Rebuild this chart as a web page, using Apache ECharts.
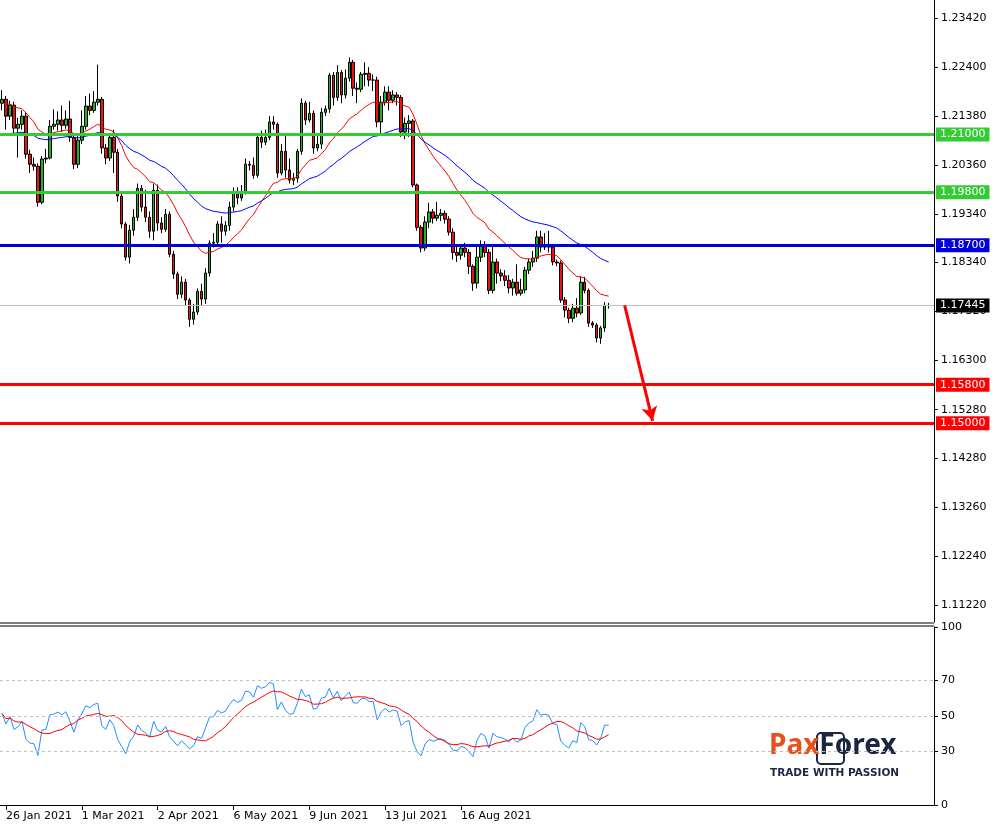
<!DOCTYPE html>
<html><head><meta charset="utf-8">
<script src="https://cdn.jsdelivr.net/npm/echarts@6/dist/echarts.min.js"></script>
<style>html,body{margin:0;padding:0;background:#fff}#c{width:997px;height:826px}</style>
</head><body><div id="c"></div>
<script>
const firstOpen = 1.2165;
const closes = [1.2173,1.2138,1.2161,1.2113,1.2121,1.2138,1.2059,1.2038,1.2034,1.1959,
1.2049,1.2051,1.2117,1.2121,1.2130,1.2119,1.2132,1.2094,1.2038,1.2088,
1.2117,1.2159,1.2150,1.2167,1.2173,1.2072,1.2051,1.2094,1.2063,1.1972,
1.1914,1.1845,1.1901,1.1928,1.1988,1.1949,1.1928,1.1899,1.1984,1.1916,
1.1903,1.1934,1.1851,1.1810,1.1768,1.1793,1.1756,1.1716,1.1731,1.1774,
1.1758,1.1812,1.1874,1.1876,1.1914,1.1899,1.1911,1.1949,1.1980,1.1968,
1.1980,1.2038,1.2036,1.2015,1.2094,1.2084,1.2094,1.2126,1.2121,1.2020,
1.2065,1.2026,1.2005,1.2009,1.2065,1.2165,1.2130,1.2144,1.2072,1.2080,
1.2146,1.2153,1.2223,1.2177,1.2229,1.2182,1.2217,1.2250,1.2196,1.2194,
1.2225,1.2227,1.2213,1.2213,1.2126,1.2167,1.2188,1.2171,1.2182,1.2177,
1.2105,1.2123,1.2128,1.1995,1.1907,1.1864,1.1918,1.1939,1.1926,1.1932,
1.1936,1.1924,1.1897,1.1855,1.1849,1.1864,1.1855,1.1826,1.1791,1.1845,
1.1870,1.1855,1.1776,1.1835,1.1812,1.1806,1.1797,1.1781,1.1793,1.1770,
1.1777,1.1818,1.1835,1.1843,1.1887,1.1866,1.1870,1.1866,1.1835,1.1833,
1.1756,1.1735,1.1718,1.1739,1.1729,1.1793,1.1776,1.1708,1.1704,1.1677,
1.1698,1.1745,1.17445];
const highs = [1.2192,1.2180,1.2170,1.2168,1.2135,1.2150,1.2145,1.2068,1.2052,1.2040,
1.2055,1.2070,1.2130,1.2152,1.2148,1.2160,1.2150,1.2170,1.2100,1.2100,
1.2150,1.2180,1.2185,1.2190,1.2245,1.2178,1.2080,1.2100,1.2110,1.2070,
1.1978,1.1918,1.1912,1.1945,1.1998,1.1995,1.1985,1.1940,1.1998,1.1996,
1.1928,1.1945,1.1940,1.1858,1.1815,1.1805,1.1800,1.1760,1.1748,1.1780,
1.1790,1.1822,1.1880,1.1895,1.1920,1.1930,1.1920,1.1960,1.1990,1.1990,
1.1995,1.2050,1.2045,1.2052,1.2100,1.2108,1.2110,1.2138,1.2138,1.2125,
1.2080,1.2100,1.2050,1.2020,1.2070,1.2175,1.2170,1.2168,1.2150,1.2100,
1.2155,1.2160,1.2228,1.2230,1.2244,1.2234,1.2235,1.2260,1.2255,1.2208,
1.2230,1.2250,1.2240,1.2225,1.2220,1.2180,1.2200,1.2200,1.2192,1.2188,
1.2182,1.2135,1.2140,1.2132,1.1998,1.1912,1.1930,1.1958,1.1945,1.1960,
1.1945,1.1942,1.1930,1.1905,1.1868,1.1872,1.1875,1.1862,1.1830,1.1870,
1.1880,1.1878,1.1862,1.1870,1.1842,1.1820,1.1818,1.1808,1.1800,1.1830,
1.1800,1.1825,1.1842,1.1858,1.1900,1.1900,1.1895,1.1900,1.1870,1.1840,
1.1838,1.1762,1.1740,1.1748,1.1760,1.1805,1.1804,1.1780,1.1712,1.1708,
1.1702,1.1752,1.1750];
const lows = [1.2150,1.2110,1.2130,1.2100,1.2052,1.2110,1.2050,1.2020,1.2025,1.1950,
1.1955,1.2040,1.2048,1.2110,1.2108,1.2105,1.2112,1.2085,1.2028,1.2030,
1.2080,1.2110,1.2140,1.2145,1.2160,1.2060,1.2038,1.2045,1.2020,1.1960,
1.1905,1.1838,1.1832,1.1890,1.1920,1.1940,1.1918,1.1885,1.1880,1.1900,
1.1895,1.1898,1.1845,1.1800,1.1758,1.1760,1.1745,1.1700,1.1705,1.1725,
1.1745,1.1748,1.1805,1.1865,1.1870,1.1875,1.1890,1.1900,1.1940,1.1955,
1.1962,1.1975,1.2025,1.2008,1.2010,1.2072,1.2078,1.2088,1.2110,1.2010,
1.2015,1.2010,1.1998,1.1995,1.2000,1.2058,1.2120,1.2125,1.2060,1.2065,
1.2070,1.2138,1.2145,1.2160,1.2170,1.2165,1.2175,1.2210,1.2180,1.2165,
1.2188,1.2200,1.2200,1.2190,1.2115,1.2100,1.2160,1.2150,1.2165,1.2160,
1.2095,1.2090,1.2095,1.1990,1.1900,1.1855,1.1858,1.1905,1.1915,1.1920,
1.1920,1.1915,1.1890,1.1840,1.1835,1.1840,1.1845,1.1810,1.1775,1.1780,
1.1835,1.1845,1.1768,1.1770,1.1790,1.1795,1.1785,1.1770,1.1765,1.1765,
1.1765,1.1770,1.1810,1.1825,1.1835,1.1855,1.1860,1.1855,1.1828,1.1826,
1.1750,1.1720,1.1708,1.1710,1.1720,1.1725,1.1770,1.1700,1.1698,1.1668,
1.1665,1.1690,1.1738];
const dateLabels = ['26 Jan 2021','1 Mar 2021','2 Apr 2021','6 May 2021','9 Jun 2021','13 Jul 2021','16 Aug 2021'];
const dateLabelIdx = [1,20,39,58,77,96,115];
const priceTicks = [1.2342,1.2240,1.2138,1.2036,1.1934,1.1834,1.1732,1.1630,1.1528,1.1428,1.1326,1.1224,1.1122];
const rsiTicks = [0,30,50,70,100];
const levelsGreen = [1.2100,1.1980];
const levelsBlue = [1.1870];
const levelsRed = [1.1580,1.1500];
const lastPrice = 1.17445;
const fastSeed = 1.2165, slowSeed = 1.2095, fastPeriod = 21, slowPeriod = 50;
const rsiPeriod = 14, rsiMaPeriod = 10;
const arrowFrom = [156, 1.1745], arrowTo = [163, 1.1505];
const totalSlots = 234;

const cats = [];
for (let i = 0; i < totalSlots; i++) cats.push(String(i));
const ohlc = closes.map((c, i) => {
  const o = i === 0 ? firstOpen : closes[i - 1];
  return [o, c, lows[i], highs[i]];
});
function ema(seed, p) {
  const k = 2 / (p + 1); let v = seed;
  return closes.map(c => (v = v + k * (c - v), +v.toFixed(5)));
}
const emaFast = ema(fastSeed, fastPeriod), emaSlow = ema(slowSeed, slowPeriod);
let ag = 0.0011, al = 0.0011;
const rsi = closes.map((c, i) => {
  const prev = i === 0 ? firstOpen : closes[i - 1];
  const d = c - prev;
  ag = (ag * (rsiPeriod - 1) + Math.max(d, 0)) / rsiPeriod;
  al = (al * (rsiPeriod - 1) + Math.max(-d, 0)) / rsiPeriod;
  return +(100 - 100 / (1 + ag / al)).toFixed(2);
});
const rsiMa = rsi.map((v, i) => {
  const s = rsi.slice(Math.max(0, i - rsiMaPeriod + 1), i + 1);
  return +(s.reduce((a, b) => a + b, 0) / s.length).toFixed(2);
});

const FONT = 'DejaVu Sans';
const NAVY = '#1c2640', ORANGE = '#e8501e';
const lvl = (v, color) => ({
  yAxis: v,
  lineStyle: { color, width: 3, type: 'solid' },
  label: { show: true, position: 'end', formatter: v.toFixed(5), color: '#fff', backgroundColor: color,
           padding: [2, 4, 1, 4], fontFamily: FONT, fontSize: 11, distance: 2 }
});
const chart = echarts.init(document.getElementById('c'));
chart.setOption({
  animation: false,
  backgroundColor: '#fff',
  grid: [
    { left: 0, top: 0, width: 934, height: 622 },
    { left: 0, top: 627, width: 934, height: 178 }
  ],
  xAxis: [
    { type: 'category', data: cats, gridIndex: 0, boundaryGap: true, axisLine: { show: false },
      axisTick: { show: false }, axisLabel: { show: false }, splitLine: { show: false } },
    { type: 'category', data: cats, gridIndex: 1, boundaryGap: true,
      axisLine: { show: true, lineStyle: { color: '#000', width: 1 } },
      axisTick: { show: true, length: 5, interval: (i) => dateLabelIdx.includes(i), lineStyle: { color: '#000' }, alignWithLabel: true },
      axisLabel: { show: true, interval: (i) => dateLabelIdx.includes(i), align: 'left', color: '#000',
        fontFamily: FONT, fontSize: 11, margin: 6,
        formatter: (v) => { const k = dateLabelIdx.indexOf(+v); return k >= 0 ? dateLabels[k] : ''; } } }
  ],
  yAxis: [
    { type: 'value', gridIndex: 0, position: 'right', min: 1.10869, max: 1.23794,
      axisLine: { show: true, lineStyle: { color: '#000' } },
      axisTick: { show: true, length: 4, customValues: priceTicks, lineStyle: { color: '#000' } },
      axisLabel: { show: true, customValues: priceTicks, formatter: v => v.toFixed(5), color: '#000',
        fontFamily: FONT, fontSize: 11, margin: 7 },
      splitLine: { show: false } },
    { type: 'value', gridIndex: 1, position: 'right', min: 0, max: 100,
      axisLine: { show: true, lineStyle: { color: '#000' } },
      axisTick: { show: true, length: 4, customValues: rsiTicks, lineStyle: { color: '#000' } },
      axisLabel: { show: true, customValues: rsiTicks, color: '#000', fontFamily: FONT, fontSize: 11, margin: 7 },
      splitLine: { show: false } }
  ],
  graphic: [
    { type: 'line', shape: { x1: 0, y1: 623, x2: 934, y2: 623 }, style: { stroke: '#000', lineWidth: 1 } },
    { type: 'line', shape: { x1: 0, y1: 626, x2: 934, y2: 626 }, style: { stroke: '#000', lineWidth: 1 } },
    { type: 'rect', z: 1, shape: { x: 817, y: 733, width: 27, height: 31, r: 4 }, style: { fill: 'none', stroke: NAVY, lineWidth: 2 } },
    { type: 'text', z: 2, left: 769, top: 732, style: { rich: {
        o: { fill: ORANGE, fontSize: 28, fontFamily: 'Noto Sans', fontWeight: 'bold' },
        n: { fill: NAVY, fontSize: 28, fontFamily: 'Noto Sans', fontWeight: 'bold' } },
        text: '{o|Pax}{n|Forex}' } },
    { type: 'text', left: 770, top: 768, style: { text: 'TRADE WITH PASSION', fill: NAVY, fontSize: 10.5,
        fontFamily: 'DejaVu Sans', fontWeight: 'bold' } }
  ],
  series: [
    { type: 'candlestick', xAxisIndex: 0, yAxisIndex: 0, data: ohlc, barWidth: 3,
      itemStyle: { color: '#1fb51f', color0: '#ee1111', borderColor: '#000', borderColor0: '#000', borderWidth: 1 } },
    { type: 'line', xAxisIndex: 0, yAxisIndex: 0, data: emaFast, showSymbol: false, lineStyle: { color: '#ff0000', width: 1 } },
    { type: 'line', xAxisIndex: 0, yAxisIndex: 0, data: emaSlow, showSymbol: false, lineStyle: { color: '#0000ff', width: 1 },
      markLine: { silent: true, symbol: 'none', animation: false, precision: 5, data: [
        ...levelsGreen.map(v => lvl(v, '#33cc33')),
        ...levelsBlue.map(v => lvl(v, '#0000dd')),
        ...levelsRed.map(v => lvl(v, '#ff0000')),
        { yAxis: lastPrice, lineStyle: { color: '#c0c0c0', width: 1, type: 'solid' },
          label: { show: true, position: 'end', formatter: lastPrice.toFixed(5), color: '#fff', backgroundColor: '#000',
            padding: [2, 4, 1, 4], fontFamily: FONT, fontSize: 11, distance: 2 } },
        [ { coord: arrowFrom, symbol: 'none' },
          { coord: arrowTo, symbol: 'arrow', symbolSize: [12, 14],
            lineStyle: { color: '#ff0000', width: 3, type: 'solid' }, label: { show: false } } ]
      ] } },
    { type: 'line', xAxisIndex: 1, yAxisIndex: 1, data: rsi, showSymbol: false, lineStyle: { color: '#1e90ff', width: 1 },
      markLine: { silent: true, symbol: 'none', label: { show: false },
        lineStyle: { color: '#c0c0c0', type: [3, 3], width: 1 }, data: [{ yAxis: 30 }, { yAxis: 50 }, { yAxis: 70 }] } },
    { type: 'line', xAxisIndex: 1, yAxisIndex: 1, data: rsiMa, showSymbol: false, lineStyle: { color: '#ff0000', width: 1 } }
  ]
});
</script></body></html>
